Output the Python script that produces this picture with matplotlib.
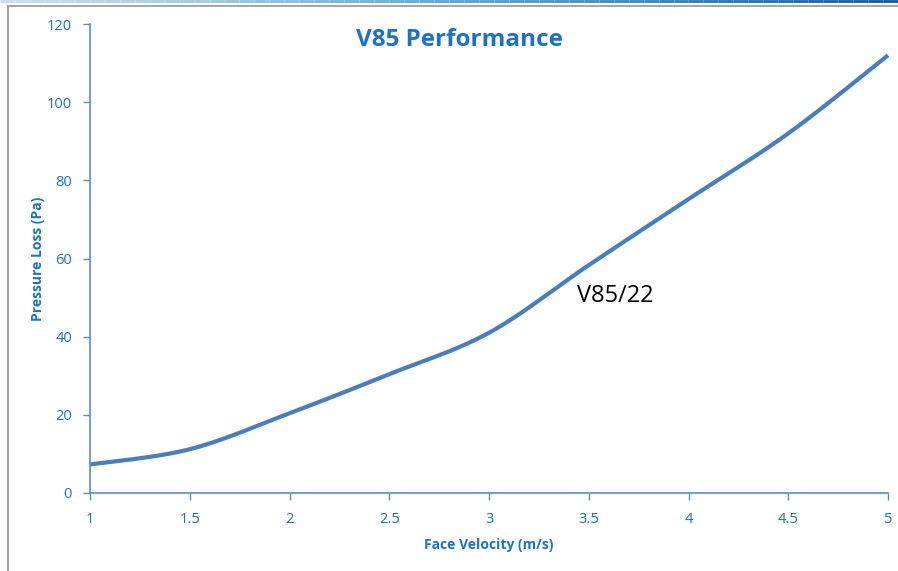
import numpy as np
import matplotlib
matplotlib.use("Agg")
import matplotlib.pyplot as plt
from matplotlib.collections import LineCollection
from matplotlib.patches import Rectangle

# data
face_velocity = [1.0, 1.5, 2.0, 2.5, 3.0, 3.5, 4.0, 4.5, 5.0]
pressure_loss = [7.3, 11.2, 20.4, 30.4, 41.0, 58.3, 75.2, 92.0, 112.0]
x_ticks = [1, 1.5, 2, 2.5, 3, 3.5, 4, 4.5, 5]
x_tick_labels = ["1", "1.5", "2", "2.5", "3", "3.5", "4", "4.5", "5"]
y_ticks = [0, 20, 40, 60, 80, 100, 120]
series_label = "V85/22"

plt.rcParams["font.family"] = ["Open Sans", "DejaVu Sans"]

LINE = "#4A7EBB"
AXIS = "#5B8BC9"
TEXT = "#1C72C4"


def excel_smooth(x, y, n=30):
    # Catmull-Rom style bezier smoothing, like Excel's smoothed line
    x = np.asarray(x, float)
    y = np.asarray(y, float)
    px = np.concatenate([[x[0]], x, [x[-1]]])
    py = np.concatenate([[y[0]], y, [y[-1]]])
    xs, ys = [], []
    t = np.linspace(0, 1, n)
    for i in range(1, len(px) - 2):
        p0 = np.array([px[i], py[i]])
        p3 = np.array([px[i + 1], py[i + 1]])
        p1 = p0 + (np.array([px[i + 1], py[i + 1]]) - np.array([px[i - 1], py[i - 1]])) / 6
        p2 = p3 - (np.array([px[i + 2], py[i + 2]]) - np.array([px[i], py[i]])) / 6
        b = ((1 - t) ** 3)[:, None] * p0 + (3 * (1 - t) ** 2 * t)[:, None] * p1 \
            + (3 * (1 - t) * t ** 2)[:, None] * p2 + (t ** 3)[:, None] * p3
        xs.extend(b[:, 0])
        ys.extend(b[:, 1])
    return np.array(xs), np.array(ys)


fig = plt.figure(figsize=(8.98, 5.71), dpi=100)
ax = fig.add_axes([90 / 898, 1 - 493 / 571, 798 / 898, 469 / 571])

sx, sy = excel_smooth(face_velocity, pressure_loss)
ax.plot(sx, sy, color=LINE, lw=3, solid_capstyle="butt", clip_on=False)

ax.set_xlim(1, 5)
ax.set_ylim(0, 120)
ax.set_xticks(x_ticks)
ax.set_xticklabels(x_tick_labels)
ax.set_yticks(y_ticks)

for s in ["top", "right"]:
    ax.spines[s].set_visible(False)
for s in ["left", "bottom"]:
    ax.spines[s].set_color(AXIS)
    ax.spines[s].set_linewidth(1.2)
ax.tick_params(axis="both", direction="out", length=5, width=1, color=AXIS,
               labelcolor=TEXT, labelsize=10.5)
ax.tick_params(axis="x", pad=9)
ax.tick_params(axis="y", pad=8)

ax.set_xlabel("Face Velocity (m/s)", color=TEXT, fontsize=10, fontweight="bold")
ax.set_ylabel("Pressure Loss (Pa)", color=TEXT, fontsize=10, fontweight="bold")
ax.xaxis.set_label_coords(0.5, -0.111)
ax.yaxis.set_label_coords(-0.065, 0.5)
ax.xaxis.label.set_va("center")
ax.yaxis.label.set_va("center")

ax.text(3.44, 50.5, series_label, fontsize=17, color="black", va="center", ha="left")

fig.text(459 / 898, 1 - 40 / 571, "V85 Performance", fontsize=17.5, fontweight="bold",
         color=TEXT, ha="center", va="center")

# outer frame of the chart area
fig.patches.append(Rectangle((8 / 898, -0.1), 1.2, 1 - 6 / 571 + 0.1, transform=fig.transFigure,
                             fill=False, edgecolor="#A6A6A6", lw=1.5))

# thin blue strip at the very top
n = 60
xs = np.linspace(0, 1, n + 1)
segs = [[(xs[i], 1 - 0.8 / 571), (xs[i + 1], 1 - 0.8 / 571)] for i in range(n)]
cols = plt.cm.Blues(np.linspace(0.25, 0.85, n))
fig.add_artist(LineCollection(segs, colors=cols, lw=2, transform=fig.transFigure))

fig.savefig("out.png", dpi=100)
